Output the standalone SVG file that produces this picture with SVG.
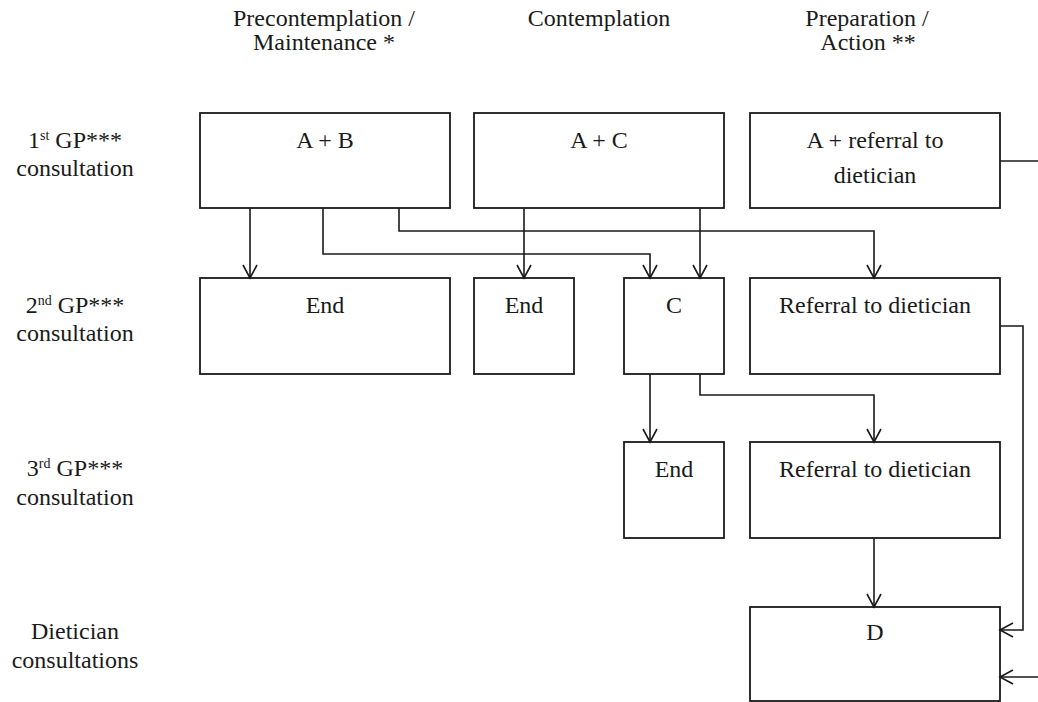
<svg xmlns="http://www.w3.org/2000/svg" width="1038" height="702" viewBox="0 0 1038 702">
<style>
text{font-family:"Liberation Serif","Times New Roman",serif;font-size:24px;fill:#1a1a1a;text-anchor:middle}
.box{fill:#fff;stroke:#1a1a1a;stroke-width:1.8}
.con{fill:none;stroke:#1a1a1a;stroke-width:1.6}
.sup{font-size:14px}
</style>
<defs>
<marker id="arr" markerUnits="userSpaceOnUse" markerWidth="18" markerHeight="18" refX="14" refY="8" orient="auto">
<path d="M1,1 L14,8 L1,15" fill="none" stroke="#1a1a1a" stroke-width="1.6"/>
</marker>
</defs>
<g id="headers">
<text x="324" y="26">Precontemplation /</text>
<text x="324" y="50">Maintenance *</text>
<text x="599" y="26">Contemplation</text>
<text x="867" y="26">Preparation /</text>
<text x="868" y="50">Action **</text>
</g>
<g id="row-labels">
<text x="75" y="148">1<tspan class="sup" dy="-8">st</tspan><tspan dy="8"> GP***</tspan></text>
<text x="75" y="176">consultation</text>
<text x="75" y="313">2<tspan class="sup" dy="-8">nd</tspan><tspan dy="8"> GP***</tspan></text>
<text x="75" y="341">consultation</text>
<text x="75" y="476">3<tspan class="sup" dy="-8">rd</tspan><tspan dy="8"> GP***</tspan></text>
<text x="75" y="505">consultation</text>
<text x="75" y="639">Dietician</text>
<text x="75" y="668">consultations</text>
</g>
<g id="n-ab"><rect class="box" x="200" y="113" width="250" height="95"/><text x="325" y="148">A + B</text></g>
<g id="n-ac"><rect class="box" x="474" y="113" width="250" height="95"/><text x="599" y="148">A + C</text></g>
<g id="n-ar"><rect class="box" x="750" y="113" width="250" height="95"/><text x="875" y="148">A + referral to</text><text x="875" y="183">dietician</text></g>
<g id="n-end1"><rect class="box" x="200" y="278" width="250" height="96"/><text x="325" y="313">End</text></g>
<g id="n-end2"><rect class="box" x="474" y="278" width="100" height="96"/><text x="524" y="313">End</text></g>
<g id="n-c"><rect class="box" x="624" y="278" width="100" height="96"/><text x="674" y="313">C</text></g>
<g id="n-ref2"><rect class="box" x="750" y="278" width="250" height="96"/><text x="875" y="313">Referral to dietician</text></g>
<g id="n-end3"><rect class="box" x="624" y="442" width="100" height="96"/><text x="674" y="477">End</text></g>
<g id="n-ref3"><rect class="box" x="750" y="442" width="250" height="96"/><text x="875" y="477">Referral to dietician</text></g>
<g id="n-d"><rect class="box" x="750" y="607" width="250" height="94"/><text x="875" y="640">D</text></g>
<g id="connectors">
<path class="con" marker-end="url(#arr)" d="M250,208 V278"/>
<path class="con" marker-end="url(#arr)" d="M323,208 V254 H650 V278"/>
<path class="con" marker-end="url(#arr)" d="M399,208 V231 H874 V278"/>
<path class="con" marker-end="url(#arr)" d="M524,208 V278"/>
<path class="con" marker-end="url(#arr)" d="M700,208 V278"/>
<path class="con" d="M1000,161 H1038"/>
<path class="con" marker-end="url(#arr)" d="M1000,326 H1023 V630 H1000"/>
<path class="con" marker-end="url(#arr)" d="M650,374 V442"/>
<path class="con" marker-end="url(#arr)" d="M700,374 V395 H874 V442"/>
<path class="con" marker-end="url(#arr)" d="M874,538 V607"/>
<path class="con" marker-end="url(#arr)" d="M1038,677 H1000"/>
</g>
</svg>
